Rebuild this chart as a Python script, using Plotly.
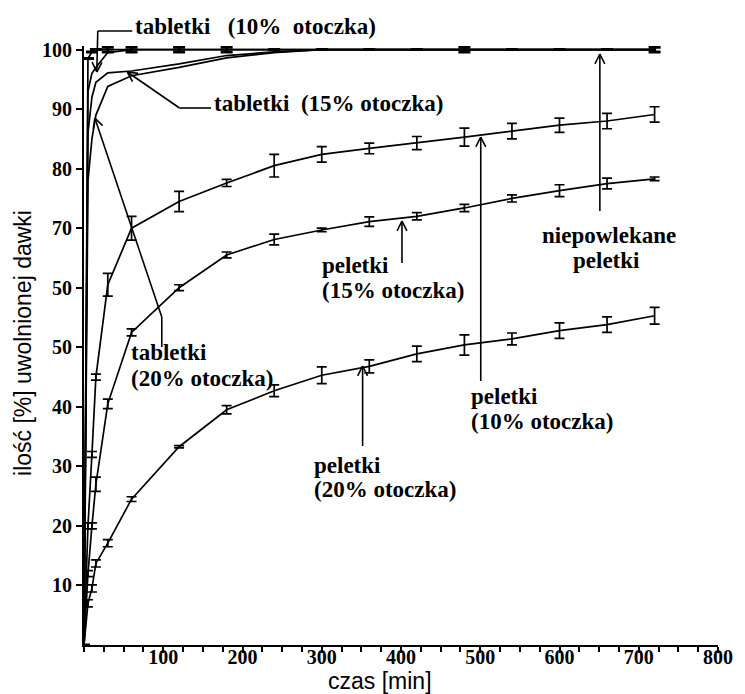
import math
import plotly.graph_objects as go

# ---------------- data ----------------
t_min = [0, 5, 10, 15, 30, 60, 120, 180, 240, 300, 360, 420, 480, 540, 600, 660, 720]

niepowlekane = [0, 98.5, 99.6, 100, 100, 100, 100, 100, 100, 100, 100, 100, 100, 100, 100, 100, 100]
niepowlekane_err = [0, 0, 0, 0, 0.4, 0.4, 0.4, 0.4, 0, 0, 0, 0, 0.4, 0, 0, 0, 0.4]

tabletki_10 = [0, 93, 96, 97, 99.5, 100, 100, 100, 100, 100, 100, 100, 100, 100, 100, 100, 100]
tabletki_15 = [0, 86, 92, 94.5, 96.1, 96.4, 97.6, 99.0, 99.6, 100, 100, 100, 100, 100, 100, 100, 100]
tabletki_20 = [0, 78, 85, 89, 93.8, 95.6, 97.0, 98.6, 99.5, 100, 100, 100, 100, 100, 100, 100, 100]

peletki_10 = [0, 20, 32, 45, 60.5, 70, 74.5, 77.6, 80.5, 82.4, 83.4, 84.3, 85.3, 86.3, 87.3, 88.0, 89.1]
peletki_10_err = [0, 0.5, 0.5, 0.5, 1.9, 2.0, 1.7, 0.6, 1.9, 1.3, 0.9, 1.1, 1.5, 1.3, 1.2, 1.3, 1.3]

peletki_15 = [0, 12, 20, 27, 40.5, 52.5, 60.0, 65.5, 68.1, 69.7, 71.1, 72.0, 73.4, 75.0, 76.3, 77.5, 78.3]
peletki_15_err = [0, 0.5, 0.5, 1.2, 0.8, 0.6, 0.5, 0.5, 0.9, 0.3, 0.8, 0.6, 0.6, 0.6, 1.0, 0.9, 0.3]

peletki_20 = [0, 7, 9.5, 13.7, 17.1, 24.5, 33.3, 39.5, 42.7, 45.3, 46.8, 48.9, 50.4, 51.4, 52.8, 53.8, 55.3]
peletki_20_err = [0, 0.6, 0.6, 0.6, 0.6, 0.4, 0.2, 0.7, 1.0, 1.4, 1.1, 1.3, 1.7, 1.0, 1.3, 1.3, 1.4]

x_tickvals = [100, 200, 300, 400, 500, 600, 700, 800]
x_ticktext = ["100", "200", "300", "400", "500", "600", "700", "800"]
y_tickvals = [10, 20, 30, 40, 50, 60, 70, 80, 90, 100]
y_ticktext = ["10", "20", "30", "40", "50", "50", "70", "80", "90", "100"]

x_title = "czas [min]"
y_title = "ilość [%] uwolnionej dawki"

# ---------------- layout geometry ----------------
W, H = 745, 694
ML, MR, MB = 84, 17, 49
YMAX = 100.6
PLOT_W = W - ML - MR
PLOT_H = 599
MT = H - MB - PLOT_H
BOTTOM = H - MB


def px(x):
    return (x - ML) / PLOT_W


def py(y):
    return (BOTTOM - y) / PLOT_H


fig = go.Figure()

LINE = dict(color="black", width=1.7)


def add_series(y, err=None, thick=False):
    kw = {}
    if err is not None:
        kw["error_y"] = dict(type="data", array=err, visible=True, color="black",
                             thickness=3 if thick else 1.7, width=6 if thick else 5)
    fig.add_trace(go.Scatter(x=t_min, y=y, mode="lines", line=LINE,
                             showlegend=False, cliponaxis=False, **kw))


add_series(tabletki_20)
add_series(tabletki_15)
add_series(tabletki_10)
add_series(niepowlekane, niepowlekane_err, thick=True)
add_series(peletki_10, peletki_10_err)
add_series(peletki_15, peletki_15_err)
add_series(peletki_20, peletki_20_err)

shapes = []


def seg(p1, p2, w=1.6):
    shapes.append(dict(type="line", xref="paper", yref="paper",
                       x0=px(p1[0]), y0=py(p1[1]), x1=px(p2[0]), y1=py(p2[1]),
                       line=dict(color="black", width=w)))


def arrow(points):
    for a, b in zip(points[:-1], points[1:]):
        seg(a, b)
    (x1, y1), (x2, y2) = points[-2], points[-1]
    ang = math.atan2(y2 - y1, x2 - x1)
    L, a = 11, math.radians(27)
    for s in (1, -1):
        hx = x2 - L * math.cos(ang + s * a)
        hy = y2 - L * math.sin(ang + s * a)
        seg((hx, hy), (x2, y2))


arrow([(133, 31), (98, 31), (97, 72)])          # tabletki 10%
arrow([(213, 108), (181, 108), (128, 72)])      # tabletki 15%
arrow([(163, 347), (163, 317), (95, 118)])      # tabletki 20%
arrow([(407, 263), (407, 221)])                 # peletki 15%
arrow([(487, 381), (487, 137)])                 # peletki 10%
arrow([(367, 446), (367, 366)])                 # peletki 20%
arrow([(608, 211), (608, 54)])                  # niepowlekane

ann = []
LBL = dict(family="Liberation Serif", size=23, color="black", weight="bold")
NB = "\u00a0"


def label(text, x, y, anchor="left"):
    ann.append(dict(text=text, xref="paper", yref="paper", x=px(x), y=py(y),
                    xanchor=anchor, yanchor="middle", showarrow=False, font=LBL))


label("tabletki" + NB * 3 + "(10%" + NB * 2 + "otoczka)", 134, 27)
label("tabletki" + NB * 2 + "(15% otoczka)", 214, 104)
label("tabletki", 130, 353)
label("(20% otoczka)", 130, 378)
label("peletki", 324, 265)
label("(15% otoczka)", 324, 290)
label("peletki", 475, 396)
label("(10% otoczka)", 475, 422)
label("peletki", 316, 465)
label("(20% otoczka)", 316, 490)
label("niepowlekane", 547, 236)
label("peletki", 579, 260)

TITLE = dict(family="Liberation Sans", size=23, color="black")
ann.append(dict(text=x_title, xref="paper", yref="paper", x=px(385), y=py(681),
                xanchor="center", yanchor="middle", showarrow=False, font=TITLE))
ann.append(dict(text=y_title, xref="paper", yref="paper", x=px(22), y=py(343),
                xanchor="center", yanchor="middle", showarrow=False, font=TITLE,
                textangle=-90))

TICK = dict(family="Liberation Serif", size=20, color="black", weight="bold")

fig.update_layout(
    width=W, height=H,
    margin=dict(l=ML, r=MR, t=MT, b=MB, pad=0),
    paper_bgcolor="white", plot_bgcolor="white",
    shapes=shapes, annotations=ann,
    xaxis=dict(range=[0, 800], showgrid=False, zeroline=False,
               showline=True, linecolor="black", linewidth=2,
               tickmode="array", tickvals=x_tickvals, ticktext=x_ticktext,
               ticks="outside", ticklen=6, tickwidth=1.5, tickcolor="black",
               tickfont=TICK, ticklabelstandoff=-13,
               minor=dict(dtick=25, tick0=0, ticks="outside", ticklen=5,
                          tickwidth=1.5, tickcolor="black", showgrid=False)),
    yaxis=dict(range=[0, YMAX], showgrid=False, zeroline=False,
               showline=True, linecolor="black", linewidth=2,
               tickmode="array", tickvals=y_tickvals, ticktext=y_ticktext,
               ticks="outside", ticklen=6, tickwidth=1.5, tickcolor="black",
               tickfont=TICK),
)

fig.write_html("out.html")
